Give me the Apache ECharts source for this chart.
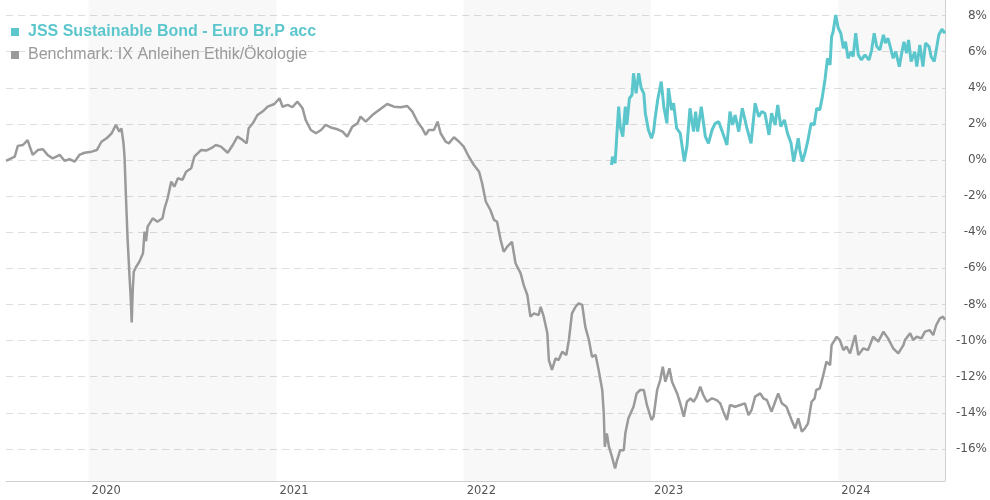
<!DOCTYPE html>
<html>
<head>
<meta charset="utf-8">
<script src="https://cdn.jsdelivr.net/npm/echarts@6/dist/echarts.min.js"></script>
<style>
html,body{margin:0;padding:0;background:#fff;}
#chart{width:990px;height:500px;}
</style>
</head>
<body>
<div id="chart"></div>
<script>
// Days since 2020-01-01 for each observation
const fundName = 'JSS Sustainable Bond - Euro Br.P acc';
const benchName = 'Benchmark: IX Anleihen Ethik/Ökologie';

const benchDay = [-161,-144,-138,-128,-119,-109,-99,-89,-80,-70,-56,-47,-37,-27,-18,-8,6,16,25,35,45,53,60,64,68,70,73,76,80,82,84,86,88,93,99,106,109,112,115,125,134,144,148,154,161,167,174,183,190,200,206,219,229,239,248,258,271,281,290,300,308,312,320,329,339,349,362,372,378,388,397,407,417,423,433,443,453,462,472,485,495,504,514,524,530,540,553,566,582,595,608,621,631,641,650,657,663,673,680,686,696,702,712,722,731,741,751,761,767,774,783,790,796,803,809,816,825,832,842,848,855,861,868,877,881,887,894,897,903,910,916,923,931,936,942,949,955,962,968,975,981,988,994,1001,1004,1006,1010,1014,1020,1026,1030,1036,1043,1046,1052,1062,1068,1075,1082,1088,1097,1101,1108,1114,1119,1124,1132,1137,1147,1153,1160,1166,1173,1179,1185,1192,1198,1205,1215,1224,1231,1237,1244,1250,1260,1270,1279,1286,1292,1299,1309,1315,1322,1331,1338,1344,1351,1360,1370,1377,1383,1390,1396,1402,1409,1415,1418,1425,1431,1438,1445,1448,1458,1464,1471,1477,1484,1494,1500,1510,1519,1529,1539,1549,1558,1568,1578,1588,1591,1601,1607,1614,1623,1630,1639,1646,1652,1659,1665,1669];
const benchValue = [-0.05,0.18,0.78,0.83,1.1,0.28,0.55,0.59,0.28,0.09,0.28,-0.04,0.04,-0.09,0.28,0.4,0.46,0.55,1.01,1.2,1.48,1.94,1.57,1.75,0.92,0.18,-2.2,-4.4,-6.6,-7.57,-9.0,-7.2,-6.19,-5.9,-5.63,-5.17,-3.97,-4.5,-3.69,-3.23,-3.42,-3.23,-2.68,-2.12,-1.2,-1.48,-1.01,-1.1,-0.65,-0.46,0.18,0.55,0.52,0.65,0.83,0.74,0.4,0.83,1.29,1.11,0.92,1.76,2.03,2.49,2.68,2.95,3.1,3.42,2.95,3.05,2.92,3.23,2.86,2.22,1.66,1.48,1.66,1.94,1.8,1.7,1.57,1.29,1.85,2.03,2.4,2.12,2.49,2.77,3.1,2.95,2.92,2.99,2.68,2.12,1.76,1.39,1.66,1.66,2.12,1.48,1.01,0.92,1.26,1.01,0.74,0.18,-0.28,-0.65,-1.3,-2.3,-2.77,-3.32,-3.42,-4.43,-5.08,-4.8,-4.53,-5.72,-6.28,-6.93,-7.48,-8.68,-8.5,-8.59,-8.13,-8.68,-9.6,-11.08,-11.63,-10.99,-11.08,-10.62,-10.8,-9.97,-8.5,-8.13,-7.94,-8.03,-9.24,-9.97,-10.9,-10.8,-11.63,-12.74,-14.03,-15.88,-15.14,-15.88,-16.44,-17.08,-16.62,-16.07,-16.07,-15.14,-14.31,-13.67,-12.93,-12.74,-12.74,-13.57,-14.4,-14.22,-12.74,-12.19,-11.45,-12.28,-11.54,-12.28,-12.93,-13.48,-14.22,-13.39,-13.2,-13.39,-13.11,-12.56,-13.02,-13.39,-13.2,-13.3,-13.48,-13.94,-14.4,-13.57,-13.67,-13.57,-13.48,-14.13,-13.85,-13.11,-12.93,-13.2,-13.3,-13.94,-13.39,-12.93,-13.48,-13.67,-14.4,-14.87,-14.31,-15.05,-14.87,-14.59,-13.39,-13.2,-12.74,-12.65,-12.0,-11.17,-11.36,-10.25,-9.79,-9.97,-10.53,-10.34,-10.71,-9.7,-10.8,-10.43,-10.53,-9.79,-10.06,-9.51,-9.88,-10.43,-10.71,-10.25,-9.97,-9.6,-9.97,-9.79,-9.88,-9.51,-9.42,-9.7,-9.14,-8.77,-8.68,-8.86];

const fundDay = [1019,1021,1026,1033,1036,1041,1046,1049,1054,1059,1062,1067,1072,1077,1082,1085,1091,1097,1101,1104,1109,1116,1121,1127,1130,1136,1140,1146,1153,1161,1166,1172,1179,1183,1187,1194,1202,1208,1215,1221,1228,1235,1244,1250,1255,1260,1267,1274,1283,1291,1299,1306,1312,1318,1326,1331,1338,1343,1349,1356,1362,1369,1374,1378,1383,1386,1391,1396,1402,1408,1414,1419,1425,1430,1435,1440,1445,1448,1451,1456,1461,1466,1471,1475,1480,1486,1490,1495,1500,1506,1513,1521,1526,1531,1536,1542,1549,1553,1558,1563,1568,1573,1580,1584,1589,1594,1598,1603,1610,1614,1620,1626,1631,1638,1642,1648,1652,1657,1663,1669];
const fundValue = [-0.28,0.18,-0.18,2.95,1.85,1.29,2.95,1.94,3.42,3.6,4.8,3.69,4.8,3.97,3.69,2.59,1.66,1.2,1.57,2.31,3.32,4.34,2.95,2.03,3.97,2.77,3.14,1.76,1.48,-0.09,0.74,2.86,1.57,2.68,1.57,2.95,1.29,0.92,1.66,2.03,2.12,1.57,0.83,2.68,1.94,2.49,1.57,2.86,1.76,0.92,3.14,2.4,2.68,2.59,1.39,2.59,1.94,3.05,1.85,2.22,1.48,0.92,-0.09,0.46,1.2,0.55,-0.09,0.37,1.11,2.03,1.94,2.86,2.77,3.51,4.43,5.63,5.26,6.83,7.1,8.03,7.3,7.02,6.19,6.55,5.63,6.0,5.72,7.02,5.82,5.54,5.82,5.54,6.09,7.02,6.28,6.09,6.93,6.47,6.74,6.19,5.63,6.0,5.17,5.82,6.55,5.91,6.65,5.45,6.0,5.17,6.37,5.17,6.47,6.28,5.72,5.45,6.09,6.93,7.24,7.02];

const yearTicks = [2020, 2021, 2022, 2023, 2024];
const yTicks = [-16, -14, -12, -10, -8, -6, -4, -2, 0, 2, 4, 6, 8];
const axisStartDay = -161;
const axisEndDay = 1669;
const yMin = -17.78;
const yMax = 8.86;

const DAY = 86400000;
const EPOCH = Date.UTC(2020, 0, 1);
const toTs = d => EPOCH + d * DAY;
const yearTs = y => Date.UTC(y, 0, 1);

const benchData = benchDay.map((d, i) => [toTs(d), benchValue[i]]);
const fundData = fundDay.map((d, i) => [toTs(d), fundValue[i]]);

const bandPairs = [];
for (let i = 0; i < yearTicks.length; i += 2) {
  const start = yearTs(yearTicks[i]);
  const end = i + 1 < yearTicks.length ? yearTs(yearTicks[i + 1]) : toTs(axisEndDay);
  bandPairs.push([{ xAxis: start }, { xAxis: end }]);
}

const chart = echarts.init(document.getElementById('chart'), null, { renderer: 'canvas' });
chart.setOption({
  animation: false,
  backgroundColor: '#ffffff',
  grid: { left: 6, right: 43, top: 0, bottom: 19, containLabel: false },
  legend: {
    orient: 'vertical',
    left: 11,
    top: 24,
    padding: 0,
    itemWidth: 8,
    itemHeight: 8,
    itemGap: 7,
    icon: 'rect',
    textStyle: { fontFamily: 'Liberation Sans, Arial, sans-serif', fontSize: 16, padding: [0, 0, 0, 4] },
    data: [
      { name: fundName, textStyle: { color: '#5cc6cd', fontWeight: 'bold' } },
      { name: benchName, textStyle: { color: '#9a9a9a', fontWeight: 'normal' } }
    ]
  },
  xAxis: {
    type: 'value',
    min: toTs(axisStartDay),
    max: toTs(axisEndDay),
    axisLine: { show: true, onZero: false, lineStyle: { color: '#d0d0d0', width: 1 } },
    axisTick: { show: false, customValues: yearTicks.map(yearTs) },
    splitLine: { show: false },
    axisLabel: {
      customValues: yearTicks.map(yearTs),
      formatter: v => String(new Date(v).getUTCFullYear()),
      align: 'left',
      padding: [0, 0, 0, 3],
      margin: 4,
      color: '#555',
      fontFamily: 'DejaVu Sans, Verdana, sans-serif',
      fontSize: 11.5
    }
  },
  yAxis: {
    type: 'value',
    position: 'right',
    min: yMin,
    max: yMax,
    axisLine: { show: true, onZero: false, lineStyle: { color: '#d0d0d0', width: 1 } },
    axisTick: { show: false, customValues: yTicks },
    splitLine: { show: true, lineStyle: { color: '#dedede', type: [7, 5], width: 1 } },
    axisLabel: {
      customValues: yTicks,
      formatter: v => v + '%',
      align: 'right',
      margin: 42,
      color: '#555',
      fontFamily: 'DejaVu Sans, Verdana, sans-serif',
      fontSize: 12
    }
  },
  series: [
    {
      name: benchName,
      type: 'line',
      data: benchData,
      showSymbol: false,
      symbol: 'none',
      color: '#9a9a9a',
      lineStyle: { color: '#9a9a9a', width: 2.5 },
      z: 2,
      markArea: {
        silent: true,
        itemStyle: { color: 'rgba(0,0,0,0.028)' },
        data: bandPairs
      }
    },
    {
      name: fundName,
      type: 'line',
      data: fundData,
      showSymbol: false,
      symbol: 'none',
      color: '#5cc6cd',
      lineStyle: { color: '#5cc6cd', width: 3 },
      z: 3
    }
  ]
});
</script>
</body>
</html>
